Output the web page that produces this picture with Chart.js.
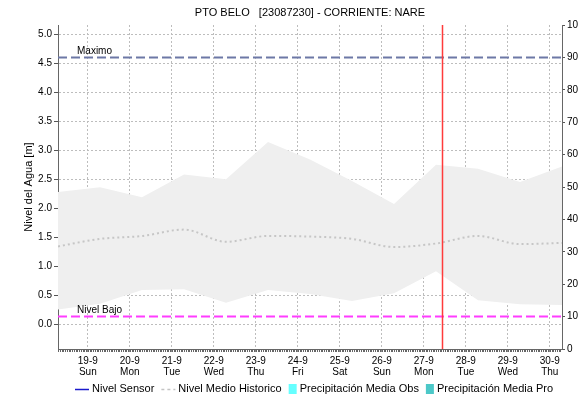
<!DOCTYPE html>
<html>
<head>
<meta charset="utf-8">
<title>PTO BELO - NARE</title>
<script src="https://cdn.jsdelivr.net/npm/chart.js@4.4.0/dist/chart.umd.min.js"></script>
<style>
    html, body { margin: 0; padding: 0; background: #ffffff; }
    #wrap { width: 578px; height: 402px; }
</style>
</head>
<body>
<div id="wrap"><canvas id="nivelChart" width="578" height="402"></canvas></div>
<script>
// x values are day-of-September (fraction = time of day, 07:00 readings)
const sampleDays = [18.29, 19.29, 20.29, 21.29, 22.29, 23.29, 24.29, 25.29, 26.29, 27.29, 28.29, 29.29, 30.29];

// Historical band and mean (m)
const histMax  = [2.28, 2.36, 2.19, 2.58, 2.50, 3.14, 2.84, 2.47, 2.07, 2.75, 2.68, 2.45, 2.72];
const histMin  = [0.25, 0.35, 0.59, 0.60, 0.37, 0.59, 0.52, 0.40, 0.53, 0.91, 0.41, 0.34, 0.33];
const histMean = [1.34, 1.47, 1.52, 1.63, 1.42, 1.52, 1.51, 1.47, 1.33, 1.39, 1.52, 1.38, 1.40];

// No sensor readings / rain in this window
const sensorLevel = [];
const precipObs = [];
const precipPro = [];

// Reference levels (m) and current time marker
const levelMax = 4.6;
const levelLow = 0.13;
const nowDay = 27.44;

// Axis ranges and ticks
const xRange = [18.29, 30.29];
const tickDays = [19, 20, 21, 22, 23, 24, 25, 26, 27, 28, 29, 30];
const tickDates = ['19-9', '20-9', '21-9', '22-9', '23-9', '24-9', '25-9', '26-9', '27-9', '28-9', '29-9', '30-9'];
const tickWeekdays = ['Sun', 'Mon', 'Tue', 'Wed', 'Thu', 'Fri', 'Sat', 'Sun', 'Mon', 'Tue', 'Wed', 'Thu'];
const levelRange = [-0.43, 5.16];
const levelTicks = [0, 0.5, 1, 1.5, 2, 2.5, 3, 3.5, 4, 4.5, 5];
const rainTicks = [0, 10, 20, 30, 40, 50, 60, 70, 80, 90, 100];

const FONT = '"Liberation Sans", Arial, sans-serif';

const toXY = (xs, ys) => ys.map((y, i) => ({ x: xs[i], y: y }));

// Reference lines labels, "now" marker and hourly minor ticks
const markersPlugin = {
    id: 'markers',
    afterDatasetsDraw(chart) {
        const { ctx, chartArea: { top, bottom, left }, scales: { x, y } } = chart;
        ctx.save();
        ctx.font = '10px ' + FONT;
        ctx.fillStyle = '#000';
        ctx.textBaseline = 'bottom';
        ctx.fillText('Maximo', left + 19, y.getPixelForValue(levelMax) - 1);
        ctx.fillText('Nivel Bajo', left + 19, y.getPixelForValue(levelLow) - 1);

        const nx = Math.round(x.getPixelForValue(nowDay)) + 0.5;
        ctx.strokeStyle = '#ff3b3b';
        ctx.lineWidth = 1.5;
        ctx.beginPath();
        ctx.moveTo(nx, top);
        ctx.lineTo(nx, bottom);
        ctx.stroke();
        ctx.restore();
    },
    afterDraw(chart) {
        const { ctx, chartArea: { bottom }, scales: { x } } = chart;
        ctx.save();
        ctx.strokeStyle = '#666';
        ctx.lineWidth = 1;
        ctx.beginPath();
        for (let h = Math.ceil(xRange[0] * 24); h <= xRange[1] * 24; h++) {
            const px = Math.round(x.getPixelForValue(h / 24)) + 0.5;
            ctx.moveTo(px, bottom + 1);
            ctx.lineTo(px, bottom + 3);
        }
        ctx.stroke();
        ctx.restore();
    }
};

// Legend row under the axis
const legendPlugin = {
    id: 'bottomLegend',
    afterDraw(chart) {
        const { ctx } = chart;
        const items = chart.data.datasets.filter(d => d.legend);
        ctx.save();
        ctx.font = '11px ' + FONT;
        const widths = items.map(d => (d.legend === 'line' ? 14 : 8) + 4 + ctx.measureText(d.label).width);
        const gap = 7;
        const total = widths.reduce((a, b) => a + b, 0) + gap * (items.length - 1);
        let px = Math.round(316 - total / 2);
        const cy = 389;
        items.forEach((d) => {
            if (d.legend === 'line') {
                ctx.strokeStyle = d.legendColor || d.borderColor;
                ctx.lineWidth = 1.5;
                ctx.setLineDash(d.legendDash || []);
                ctx.beginPath();
                ctx.moveTo(px, cy + 0.5);
                ctx.lineTo(px + 14, cy + 0.5);
                ctx.stroke();
                ctx.setLineDash([]);
                px += 17;
            } else {
                ctx.fillStyle = d.backgroundColor;
                ctx.fillRect(px, cy - 5, 8, 10);
                px += 11;
            }
            ctx.fillStyle = '#000';
            ctx.textBaseline = 'middle';
            ctx.fillText(d.label, px, cy);
            px += ctx.measureText(d.label).width + gap;
        });
        ctx.restore();
    }
};

new Chart(document.getElementById('nivelChart'), {
    data: {
        datasets: [
            {
                type: 'line',
                label: 'Nivel Sensor',
                legend: 'line',
                data: toXY(sampleDays, sensorLevel),
                borderColor: '#1a1acc',
                borderWidth: 1.5,
                pointRadius: 0,
                yAxisID: 'y'
            },
            {
                type: 'line',
                label: 'Maximo',
                data: toXY(xRange, [levelMax, levelMax]),
                borderColor: '#6d78a6',
                borderWidth: 2,
                borderDash: [9, 4],
                pointRadius: 0,
                yAxisID: 'y'
            },
            {
                type: 'line',
                label: 'Nivel Bajo',
                data: toXY(xRange, [levelLow, levelLow]),
                borderColor: '#ff3cff',
                borderWidth: 2,
                borderDash: [9, 4],
                pointRadius: 0,
                yAxisID: 'y'
            },
            {
                type: 'line',
                label: 'Nivel Medio Historico',
                legend: 'line',
                legendColor: '#c4c4c4',
                legendDash: [3, 3],
                data: toXY(sampleDays, histMean),
                borderColor: '#c6c6c6',
                borderWidth: 2,
                borderDash: [2, 3],
                cubicInterpolationMode: 'monotone',
                pointRadius: 0,
                yAxisID: 'y'
            },
            {
                type: 'bar',
                label: 'Precipitación Media Obs',
                legend: 'box',
                data: toXY(sampleDays, precipObs),
                backgroundColor: '#66ffff',
                yAxisID: 'y1'
            },
            {
                type: 'bar',
                label: 'Precipitación Media Pro',
                legend: 'box',
                data: toXY(sampleDays, precipPro),
                backgroundColor: '#4cc8c8',
                yAxisID: 'y1'
            },
            {
                type: 'line',
                label: 'Max Historico',
                data: toXY(sampleDays, histMax),
                borderWidth: 0,
                borderColor: 'rgba(0,0,0,0)',
                backgroundColor: '#efefef',
                fill: '+1',
                pointRadius: 0,
                yAxisID: 'y'
            },
            {
                type: 'line',
                label: 'Min Historico',
                data: toXY(sampleDays, histMin),
                borderWidth: 0,
                borderColor: 'rgba(0,0,0,0)',
                fill: false,
                pointRadius: 0,
                yAxisID: 'y'
            }
        ]
    },
    options: {
        responsive: false,
        devicePixelRatio: 1,
        animation: false,
        layout: { padding: 0 },
        scales: {
            x: {
                type: 'linear',
                position: 'bottom',
                offset: false,
                min: xRange[0],
                max: xRange[1],
                afterBuildTicks: (s) => { s.ticks = tickDays.map(v => ({ value: v })); },
                afterFit: (s) => { s.height = 53; },
                ticks: {
                    autoSkip: false,
                    maxRotation: 0,
                    padding: 3,
                    color: '#000',
                    font: { family: FONT, size: 10, lineHeight: 1.15 },
                    callback: (v) => {
                        const i = tickDays.indexOf(v);
                        return [tickDates[i], tickWeekdays[i]];
                    }
                },
                grid: { offset: false, color: '#bdbdbd', lineWidth: 1, tickLength: 3, tickColor: '#888' },
                border: { color: '#666', width: 1, dash: [2, 2] }
            },
            y: {
                type: 'linear',
                position: 'left',
                min: levelRange[0],
                max: levelRange[1],
                afterBuildTicks: (s) => { s.ticks = levelTicks.map(v => ({ value: v })); },
                afterFit: (s) => { s.width = 58; },
                ticks: {
                    padding: 2,
                    color: '#000',
                    font: { family: FONT, size: 10 },
                    callback: (v) => v.toFixed(1)
                },
                title: {
                    display: true,
                    text: 'Nivel del Agua [m]',
                    color: '#000',
                    font: { family: FONT, size: 11 },
                    padding: { top: 22, bottom: 0 }
                },
                grid: { color: '#bdbdbd', lineWidth: 1, tickLength: 4, tickColor: '#555' },
                border: { color: '#666', width: 1, dash: [2, 2] }
            },
            y1: {
                type: 'linear',
                position: 'right',
                min: 0,
                max: 100,
                afterBuildTicks: (s) => { s.ticks = rainTicks.map(v => ({ value: v })); },
                afterFit: (s) => { s.width = 16; },
                ticks: {
                    padding: 2,
                    color: '#000',
                    font: { family: FONT, size: 10 }
                },
                grid: { drawOnChartArea: false, tickLength: 3, tickColor: '#555' },
                border: { color: '#666', width: 1 }
            }
        },
        plugins: {
            title: {
                display: true,
                fullSize: false,
                text: 'PTO BELO   [23087230] - CORRIENTE: NARE',
                color: '#000',
                font: { family: FONT, size: 11, weight: 'normal' },
                padding: { top: 6, bottom: 5.8 }
            },
            legend: { display: false },
            tooltip: { enabled: false },
            filler: { propagate: false }
        }
    },
    plugins: [markersPlugin, legendPlugin]
});
</script>
</body>
</html>
